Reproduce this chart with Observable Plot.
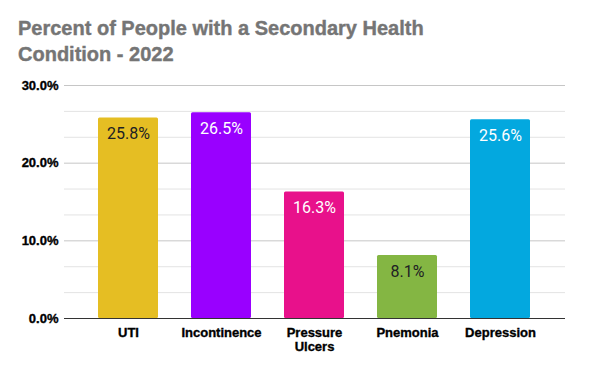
<!DOCTYPE html>
<html><head><meta charset="utf-8">
<script src="https://cdn.jsdelivr.net/npm/d3@7"></script>
<script src="https://cdn.jsdelivr.net/npm/@observablehq/plot@0.6"></script>
<style>
body{margin:0;background:#fff;width:600px;height:371px;overflow:hidden;position:relative}
#title{position:absolute;left:18px;top:15px;font-family:"Liberation Sans",Arial,sans-serif;font-weight:bold;font-size:20px;color:#757575;line-height:26px;white-space:nowrap;-webkit-text-stroke:0.4px #757575}
#chart{position:absolute;left:0;top:0}
#chart g[aria-label="x-axis tick label"] text, #chart g[aria-label="y-axis tick label"] text{stroke:#000;stroke-width:0.35px}
</style></head><body>
<div id="chart"></div>
<div id="title">Percent of People with a Secondary Health<br>Condition - 2022</div>
<script>
const categories = ["UTI", "Incontinence", "Pressure\nUlcers", "Pnemonia", "Depression"];
const values = [25.8, 26.5, 16.3, 8.1, 25.6];
const barColors = ["#e5be23", "#9900ff", "#e8118b", "#84b643", "#03a8df"];
const labelColors = ["#202124", "#ffffff", "#ffffff", "#202124", "#ffffff"];
const majorTicks = [0, 10, 20, 30];
const minorTicks = [3.333, 6.667, 13.333, 16.667, 23.333, 26.667];

const data = categories.map((c, i) => ({c, v: values[i], fill: barColors[i], label: labelColors[i]}));

const chart = Plot.plot({
  width: 600, height: 371,
  marginTop: 85, marginBottom: 53, marginLeft: 64, marginRight: 35,
  style: {fontFamily: "'Liberation Sans', Arial, sans-serif", background: "white", color: "#000"},
  x: {domain: categories, padding: 0.35, label: null},
  y: {domain: [0, 30], label: null},
  color: {type: "identity"},
  marks: [
    Plot.ruleY(minorTicks, {stroke: "#e3e3e3"}),
    Plot.ruleY(majorTicks.slice(1), {stroke: "#c6c6c6"}),
    Plot.barY(data, {x: "c", y: "v", fill: "fill", rx: 1.5}),
    Plot.text(data, {x: "c", y: "v", text: d => d.v.toFixed(1) + "%", fill: "label", lineAnchor: "top", dy: 10, fontSize: 16, fontFamily: "Roboto"}),
    Plot.axisY({ticks: majorTicks, tickFormat: d => d.toFixed(1) + "%", tickSize: 0, tickPadding: 6, fontWeight: "bold", fontSize: 13, label: null}),
    Plot.axisX({tickSize: 0, tickPadding: 8, fontWeight: "bold", fontSize: 13, lineHeight: 1.1, label: null}),
    Plot.ruleY([0], {stroke: "#333"})
  ]
});
document.getElementById("chart").appendChild(chart);
</script>
</body></html>
